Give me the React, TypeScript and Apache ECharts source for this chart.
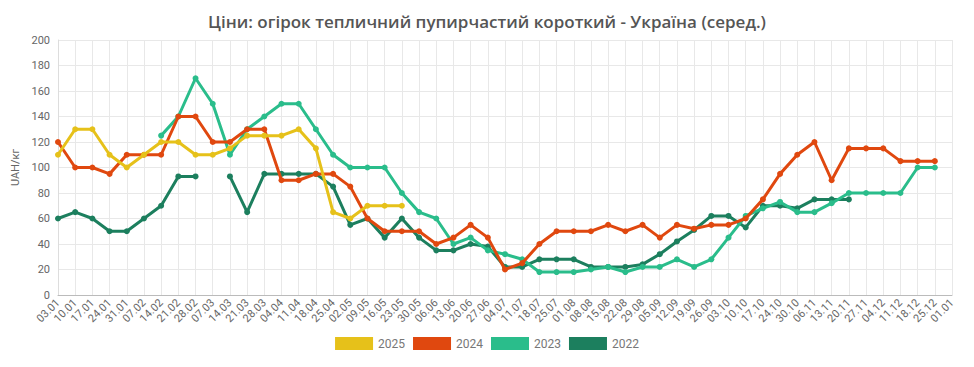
import React, { useEffect, useRef } from "react";
import * as echarts from "echarts";

const categories = ["03.01","10.01","17.01","24.01","31.01","07.02","14.02","21.02","28.02","07.03","14.03","21.03","28.03","04.04","11.04","18.04","25.04","02.05","09.05","16.05","23.05","30.05","06.06","13.06","20.06","27.06","04.07","11.07","18.07","25.07","01.08","08.08","15.08","22.08","29.08","05.09","12.09","19.09","26.09","03.10","10.10","17.10","24.10","30.10","06.11","13.11","20.11","27.11","04.12","11.12","18.12","25.12","01.01"];

const s2025 = [110,130,130,110,100,110,120,120,110,110,115,125,125,125,130,115,65,60,70,70,70];
const s2024 = [120,100,100,95,110,110,110,140,140,120,120,130,130,90,90,95,95,85,60,50,50,50,40,45,55,45,20,25,40,50,50,50,55,50,55,45,55,52,55,55,60,75,95,110,120,90,115,115,115,105,105,105];
const s2023 = [null,null,null,null,null,null,125,140,170,150,110,130,140,150,150,130,110,100,100,100,80,65,60,40,45,35,32,28,18,18,18,20,22,18,22,22,28,22,28,45,62,68,73,65,65,72,80,80,80,80,100,100];
const s2022 = [60,65,60,50,50,60,70,93,93,null,93,65,95,95,95,95,85,55,60,45,60,45,35,35,40,38,22,22,28,28,28,22,22,22,24,32,42,51,62,62,53,70,70,68,75,75,75];

const seriesNames = ["2025", "2024", "2023", "2022"];
const seriesColors = ["#e6c11a", "#e0480f", "#2abd8b", "#1c7f5e"];
const yTicks = { min: 0, max: 200, interval: 20 };

export default function App() {
  const ref = useRef<HTMLDivElement>(null);
  useEffect(() => {
    if (!ref.current) return;
    const chart = echarts.init(ref.current, null, { renderer: "svg" });
    const datas = [s2025, s2024, s2023, s2022];
    chart.setOption({
      animation: false,
      backgroundColor: "#ffffff",
      title: {
        text: "Ціни: огірок тепличний пупирчастий короткий - Україна (серед.)",
        left: "center",
        top: 8,
        textStyle: { fontFamily: "Open Sans", fontWeight: 600, fontSize: 17, color: "#555555" },
      },
      legend: {
        data: seriesNames,
        bottom: 12,
        left: "center",
        itemWidth: 38,
        itemHeight: 13,
        itemGap: 8,
        icon: "rect",
        textStyle: { fontFamily: "Roboto", fontSize: 12, color: "#777777" },
      },
      grid: { left: 58, right: 22, top: 40, bottom: 72 },
      xAxis: {
        type: "category",
        data: categories,
        boundaryGap: false,
        axisLine: { lineStyle: { color: "#bbbbbb" } },
        axisTick: { show: false },
        axisLabel: {
          rotate: 45,
          interval: 0,
          fontFamily: "Roboto",
          fontSize: 11,
          color: "#666666",
          margin: 6,
        },
        splitLine: { show: true, lineStyle: { color: "#e8e8e8" } },
      },
      yAxis: {
        type: "value",
        min: yTicks.min,
        max: yTicks.max,
        interval: yTicks.interval,
        name: "UAH/кг",
        nameLocation: "middle",
        nameGap: 36,
        nameTextStyle: { fontFamily: "Roboto", fontSize: 11, color: "#666666" },
        axisLine: { show: true, lineStyle: { color: "#dddddd" } },
        axisLabel: { fontFamily: "Roboto", fontSize: 11, color: "#666666", margin: 8 },
        splitLine: { lineStyle: { color: "#e8e8e8" } },
      },
      series: datas.map((d, i) => ({
        name: seriesNames[i],
        type: "line",
        data: d,
        connectNulls: false,
        symbol: "circle",
        symbolSize: 6,
        itemStyle: { color: seriesColors[i] },
        lineStyle: { width: 3, color: seriesColors[i] },
        z: 10 - i,
      })),
    });
    return () => chart.dispose();
  }, []);
  return (
    <div style={{ position: "fixed", left: 0, top: 0, width: 974, height: 367, background: "#fff" }}>
      <div ref={ref} style={{ width: 974, height: 367 }} />
    </div>
  );
}
